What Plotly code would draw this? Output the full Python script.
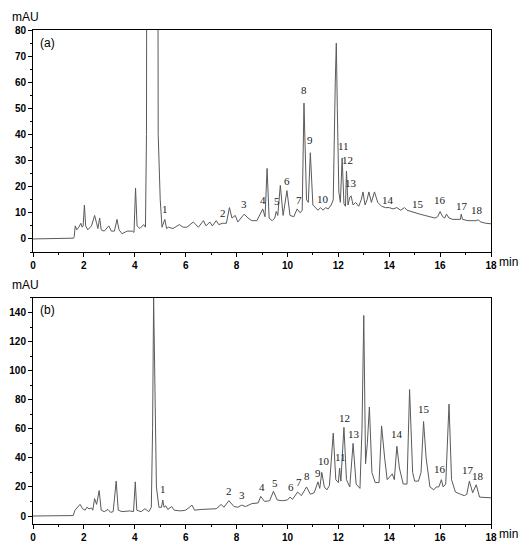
import plotly.graph_objects as go

# Chromatogram (a): retention time (min) and absorbance (mAU)
time_a = [0, 1.6, 1.62, 1.66, 1.72, 1.8, 1.88, 1.93, 1.97, 2.02, 2.07, 2.15, 2.3, 2.42, 2.5, 2.55,
          2.62, 2.68, 2.8, 2.98, 3.08, 3.2, 3.3, 3.38, 3.5, 3.7, 3.9, 3.97, 4.03, 4.09, 4.2, 4.35,
          4.42, 4.46, 4.5, 4.88, 4.92, 5.0, 5.07, 5.12, 5.18, 5.25, 5.32, 5.5, 5.75, 5.9, 6.05,
          6.3, 6.5, 6.7, 6.8, 6.95, 7.05, 7.2, 7.3, 7.45, 7.6, 7.72, 7.82, 7.95, 8.05, 8.3, 8.45,
          8.6, 8.8, 9.03, 9.12, 9.2, 9.28, 9.4, 9.5, 9.56, 9.62, 9.72, 9.83, 9.98, 10.1, 10.25,
          10.38, 10.5, 10.58, 10.65, 10.75, 10.82, 10.9, 11.0, 11.1, 11.2, 11.3, 11.4, 11.5, 11.6,
          11.72, 11.8, 11.88, 11.92, 11.96, 12.02, 12.08, 12.15, 12.22, 12.28, 12.32, 12.38, 12.45,
          12.5, 12.58, 12.68, 12.8, 12.9, 12.97, 13.05, 13.13, 13.2, 13.3, 13.42, 13.55, 13.7,
          13.85, 14.0, 14.15, 14.3, 14.45, 14.6, 14.7, 14.85, 15.0, 15.2, 15.4, 15.6, 15.8, 15.9,
          16.0, 16.1, 16.18, 16.25, 16.35, 16.5, 16.75, 16.8, 16.83, 16.88, 17.1, 17.4, 17.5,
          17.6, 17.8, 18.0]
mau_a = [0, 0.3, 1, 5, 3.5, 4.5, 6, 4.5, 5, 13, 5, 3.5, 5, 9, 6, 4,
         8, 3.5, 3, 5, 3, 3, 7.5, 3.5, 2, 3, 3, 2.5, 19.5, 5, 4, 5.5,
         4.5, 40, 300, 300, 40, 15, 4.5, 6, 7.5, 4, 4.5, 4, 5.5, 4.5, 4.5,
         6.5, 4.5, 7, 5, 6.5, 5, 7, 5.5, 6, 6, 12, 8, 9, 6.5, 9.5, 8,
         7, 7, 11.5, 8.5, 27, 8, 7, 8, 10.5, 9, 20.5, 9, 18.5, 9, 8.5,
         11.5, 10, 11, 52, 15, 14, 33, 13, 12, 11, 12, 11, 12, 11.5,
         13, 15, 60, 75, 50, 18, 14, 31, 13.5, 12.5, 26, 13, 16,
         16.5, 13, 14, 12.5, 15, 18, 13, 15, 18, 14, 18, 14, 12.5,
         12, 12, 11.5, 12, 11, 12, 11, 10.5, 10, 9.5, 9, 8.5, 8, 8.5,
         10.5, 8.5, 8, 9.5, 8, 7.5, 7.5, 7.5, 9.5, 7.5, 7, 7, 7.3,
         6.5, 6, 5.8]

# Chromatogram (b)
time_b = [0, 1.58, 1.65, 1.75, 1.85, 1.95, 2.05, 2.12, 2.2, 2.3, 2.35, 2.42, 2.5, 2.6, 2.68, 2.8,
          2.95, 3.05, 3.15, 3.27, 3.35, 3.5, 3.8, 3.95, 4.02, 4.08, 4.25, 4.4, 4.55, 4.65, 4.7,
          4.74, 4.78, 4.85, 4.95, 5.05, 5.1, 5.15, 5.22, 5.3, 5.45, 5.55, 5.8, 6.0, 6.25, 6.35,
          6.6, 7.0, 7.2, 7.4, 7.5, 7.7, 7.9, 8.05, 8.2, 8.35, 8.6, 8.85, 8.95, 9.1, 9.3, 9.45,
          9.6, 9.8, 10.0, 10.1, 10.2, 10.4, 10.55, 10.75, 10.9, 11.05, 11.2, 11.27, 11.35, 11.45,
          11.55, 11.65, 11.8, 11.9, 12.0, 12.05, 12.1, 12.22, 12.32, 12.45, 12.58, 12.7, 12.85,
          12.93, 13.0, 13.07, 13.14, 13.22, 13.32, 13.45, 13.6, 13.7, 13.77, 13.82, 13.92, 14.05,
          14.12, 14.2, 14.3, 14.4, 14.55, 14.7, 14.8, 14.92, 15.0, 15.15, 15.25, 15.35, 15.45,
          15.6, 15.75, 15.85, 15.95, 16.05, 16.12, 16.22, 16.35, 16.45, 16.6, 16.8, 16.95, 17.05,
          17.15, 17.28, 17.42, 17.55, 17.8, 18.0]
mau_b = [0, 0.3, 4, 6, 8, 5, 4, 6, 5, 5.5, 4, 12, 8, 17.5, 4, 3,
         4.5, 2.5, 3, 24, 4, 3, 3.5, 3, 23.5, 4, 3, 5, 3, 6, 60,
         150, 100, 20, 6, 6, 11, 6, 7, 4.5, 6.5, 4, 3.5, 4, 7.5, 4,
         4.5, 4.5, 5, 8, 6, 10.5, 6.5, 6, 7.5, 6.5, 8.5, 9, 13.5, 10, 10.5, 17,
         11, 10.5, 11, 13, 11.5, 16.5, 14, 20, 15, 16, 23.5, 19, 30, 20,
         18, 21, 57, 25, 23, 33, 24, 61, 25, 20, 50, 22, 19,
         60, 138, 36, 50, 75, 30, 23, 23, 62, 45, 40, 25, 28,
         29, 25, 48, 33, 22, 22, 87, 30, 24, 24, 30, 65, 40,
         20, 18, 20, 20, 25, 20, 22, 77, 25, 16.5, 15, 14, 15,
         24, 16, 21.5, 13, 12.5, 12.5]

# Numbered peaks
peak_names = [str(i) for i in range(1, 19)]
peak_time_a = [5.2, 7.45, 8.3, 9.05, 9.58, 9.98, 10.44, 10.65, 10.9, 11.4, 12.2, 12.35, 12.5,
               13.95, 15.15, 16.0, 16.85, 17.45]
peak_mau_a = [8.5, 7, 10.5, 12, 11.5, 19, 12, 54, 35, 12.3, 32.5, 27, 18.5, 12, 10.5, 12,
              9.5, 8]
peak_time_b = [5.1, 7.7, 8.2, 9.0, 9.5, 10.12, 10.47, 10.78, 11.2, 11.44, 12.07, 12.25, 12.62,
               14.3, 15.35, 16.0, 17.1, 17.48]
peak_mau_b = [13, 12, 9, 14.5, 17.5, 14.5, 18, 22, 24, 32, 35, 62, 51, 51, 68, 27, 26, 22]

line_col = "#5a5a5a"
fig = go.Figure()
fig.add_trace(go.Scatter(x=time_a, y=mau_a, mode="lines", line=dict(color=line_col, width=1),
                         xaxis="x", yaxis="y", showlegend=False))
fig.add_trace(go.Scatter(x=time_b, y=mau_b, mode="lines", line=dict(color=line_col, width=1),
                         xaxis="x2", yaxis="y2", showlegend=False))

num_font = dict(family="Liberation Serif", size=11, color="#222222")
annotations = []
for name, t, v in zip(peak_names, peak_time_a, peak_mau_a):
    annotations.append(dict(x=t, y=v, xref="x", yref="y", text=name, showarrow=False,
                            yanchor="bottom", font=num_font))
for name, t, v in zip(peak_names, peak_time_b, peak_mau_b):
    annotations.append(dict(x=t, y=v, xref="x2", yref="y2", text=name, showarrow=False,
                            yanchor="bottom", font=num_font))

lab_font = dict(family="Liberation Sans", size=12, color="black")
annotations += [
    dict(x=0.2, y=78.5, xref="x", yref="y", text="(a)", showarrow=False, xanchor="left",
         yanchor="top", font=lab_font),
    dict(x=0.2, y=148, xref="x2", yref="y2", text="(b)", showarrow=False, xanchor="left",
         yanchor="top", font=lab_font),
    dict(x=-0.05, y=1.0, xref="paper", yref="y domain", text="mAU", showarrow=False,
         xanchor="left", yanchor="bottom", yshift=4, font=lab_font),
    dict(x=-0.05, y=1.0, xref="paper", yref="y2 domain", text="mAU", showarrow=False,
         xanchor="left", yanchor="bottom", yshift=4, font=lab_font),
    dict(x=1.0, y=0, xref="x domain", yref="y domain", text="min", showarrow=False,
         xanchor="left", yanchor="top", xshift=6, yshift=-1, font=lab_font),
    dict(x=1.0, y=0, xref="x2 domain", yref="y2 domain", text="min", showarrow=False,
         xanchor="left", yanchor="top", xshift=6, yshift=-1, font=lab_font),
]

tick_font = dict(family="Liberation Sans", size=10, color="black", weight="bold")
axis_common = dict(showline=True, linecolor="black", linewidth=1, mirror=True, ticks="outside",
                   ticklen=4, tickcolor="black", showgrid=False, zeroline=False,
                   tickfont=tick_font, automargin=False)

# page body adds an 8px margin, so the figure is a bit smaller than the window
fig.update_layout(
    template="none",
    width=515, height=534,
    margin=dict(l=25, r=32, t=22, b=18),
    paper_bgcolor="white", plot_bgcolor="white",
    xaxis=dict(domain=[0, 1], anchor="y", range=[0, 18], dtick=2,
               minor=dict(ticks="outside", dtick=1, ticklen=2, tickcolor="black"), **axis_common),
    yaxis=dict(domain=[0.5506, 1], anchor="x", range=[-5, 80], tick0=0, dtick=10,
               minor=dict(ticks="outside", dtick=5, ticklen=2, tickcolor="black"), **axis_common),
    xaxis2=dict(domain=[0, 1], anchor="y2", range=[0, 18], dtick=2,
                minor=dict(ticks="outside", dtick=1, ticklen=2, tickcolor="black"), **axis_common),
    yaxis2=dict(domain=[0, 0.4575], anchor="x2", range=[-5.5, 150], tick0=0, dtick=20,
                minor=dict(ticks="outside", dtick=10, ticklen=2, tickcolor="black"), **axis_common),
    annotations=annotations,
)

fig.write_html("out.html")
